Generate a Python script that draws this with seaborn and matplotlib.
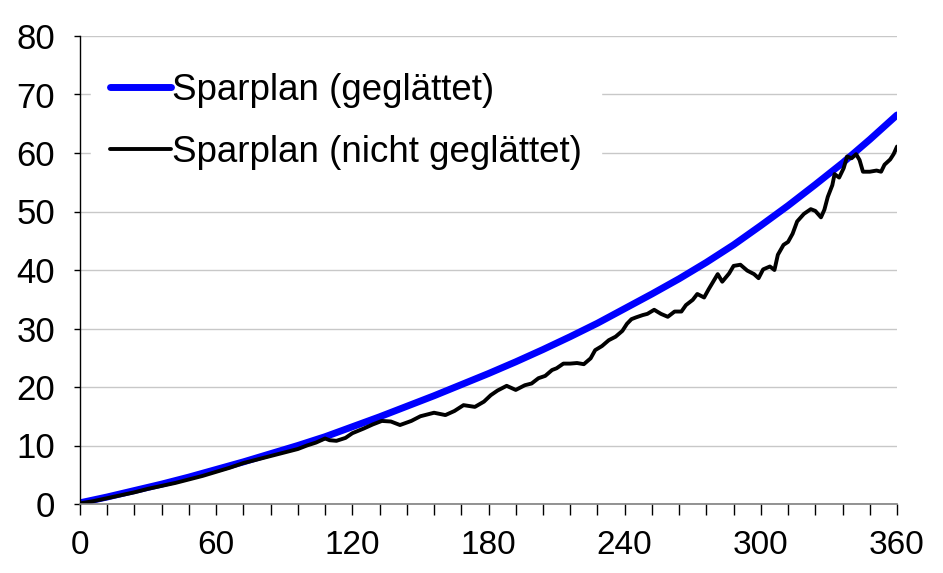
import matplotlib
matplotlib.use("Agg")
import matplotlib.pyplot as plt
import seaborn as sns
import pandas as pd
from matplotlib.ticker import MultipleLocator

# Sparplan (geglättet) - read every 12 months
months_smooth = [0, 12, 24, 36, 48, 60, 72, 84, 96, 108, 120, 132, 144, 156, 168, 180,
                 192, 204, 216, 228, 240, 252, 264, 276, 288, 300, 312, 324, 336, 348, 360]
value_smooth = [0.2, 1.2, 2.3, 3.4, 4.6, 5.9, 7.2, 8.6, 10.0, 11.5, 13.2, 14.9, 16.7, 18.5,
                20.4, 22.3, 24.3, 26.4, 28.6, 30.9, 33.4, 35.9, 38.5, 41.3, 44.3, 47.6,
                51.0, 54.6, 58.3, 62.3, 66.5]

# Sparplan (nicht geglättet)
months_raw = [0, 6, 12, 18, 24, 30, 36, 42, 48, 54, 60, 66, 72, 78, 84, 88, 92, 96, 100, 104,
              108, 110, 113, 117, 120, 125, 129, 133, 137, 141, 146, 150, 156, 161, 165, 169,
              174, 178, 181, 184, 188, 192, 196, 199, 202, 205, 208, 210, 213, 216, 219, 222,
              225, 227, 230, 233, 236, 239, 241, 243, 245, 248, 250, 253, 256, 259, 262, 265,
              267, 270, 272, 275, 277, 279, 281, 283, 286, 288, 291, 294, 297, 299, 301, 304,
              306, 307.5, 310, 312, 314, 316, 319, 322, 324, 326.5, 328, 329.5, 331.5, 332.5,
              334.5, 336.5, 338, 340, 342, 343.5, 345, 348, 351, 353, 354.5, 357, 358.5, 360]
value_raw = [0.1, 0.5, 1.0, 1.5, 2.0, 2.6, 3.1, 3.6, 4.2, 4.8, 5.5, 6.2, 7.0, 7.6, 8.2, 8.6,
             9.0, 9.4, 10.0, 10.5, 11.2, 10.9, 10.8, 11.3, 12.1, 12.9, 13.6, 14.2, 14.1, 13.5,
             14.2, 15.0, 15.6, 15.2, 15.9, 16.9, 16.6, 17.5, 18.6, 19.4, 20.2, 19.5, 20.3,
             20.6, 21.5, 21.9, 22.9, 23.2, 24.0, 24.0, 24.1, 23.9, 24.9, 26.3, 27.0, 28.0,
             28.6, 29.6, 30.8, 31.6, 31.9, 32.3, 32.5, 33.2, 32.5, 32.0, 32.9, 32.9, 34.0,
             34.9, 35.9, 35.3, 36.7, 38.0, 39.3, 38.0, 39.4, 40.7, 40.9, 39.9, 39.3, 38.6,
             40.1, 40.6, 40.0, 42.6, 44.3, 44.8, 46.2, 48.3, 49.6, 50.4, 50.1, 49.0, 50.3,
             52.5, 54.5, 56.4, 55.8, 57.4, 59.4, 59.1, 59.8, 58.8, 56.8, 56.8, 57.0, 56.8,
             58.0, 58.9, 59.8, 61.1]

labels = ["Sparplan (geglättet)", "Sparplan (nicht geglättet)"]

sns.set_style("white")
plt.rcParams['font.family'] = ['Liberation Sans', 'DejaVu Sans']
plt.rcParams['text.color'] = 'black'
plt.rcParams['xtick.color'] = 'black'
plt.rcParams['ytick.color'] = 'black'

smooth = pd.DataFrame({"Monat": months_smooth, "Wert": value_smooth})
raw = pd.DataFrame({"Monat": months_raw, "Wert": value_raw})

fig = plt.figure(figsize=(9.43, 5.73), dpi=100)
ax = fig.add_axes([80 / 943, 1 - 504 / 573, 817 / 943, 468 / 573])

sns.lineplot(data=smooth, x="Monat", y="Wert", color="#0000ff", linewidth=5.0,
             label=labels[0], ax=ax, solid_capstyle="round")
sns.lineplot(data=raw, x="Monat", y="Wert", color="black", linewidth=2.8,
             label=labels[1], ax=ax)

ax.set_xlim(0, 360)
ax.set_ylim(0, 80)
ax.xaxis.set_major_locator(MultipleLocator(60))
ax.xaxis.set_minor_locator(MultipleLocator(12))
ax.yaxis.set_major_locator(MultipleLocator(10))
ax.set_xlabel("")
ax.set_ylabel("")

ax.yaxis.grid(True, color="#c8c8c8", linewidth=1)
ax.set_axisbelow(True)
for s in ["top", "right"]:
    ax.spines[s].set_visible(False)
ax.spines["left"].set_color("black")
ax.spines["bottom"].set_color("#808080")
ax.spines["left"].set_linewidth(1)
ax.spines["bottom"].set_linewidth(1.2)

ax.tick_params(axis="x", which="both", direction="out", length=8, width=1,
               color="black", bottom=True, labelsize=24, pad=11, labelcolor="black")
ax.tick_params(axis="y", which="major", direction="out", length=4, width=1,
               color="black", left=True, labelsize=25, pad=14, labelcolor="black")

leg = ax.legend(loc="upper left", bbox_to_anchor=(0.014, 0.96), fontsize=26.5,
                frameon=True, facecolor="white", edgecolor="white", framealpha=1,
                fancybox=False, handlelength=1.65, handletextpad=0.05,
                labelspacing=0.73, borderpad=0.5, borderaxespad=0)
for t in leg.get_texts():
    t.set_color("black")

fig.savefig("out.png", dpi=100)
